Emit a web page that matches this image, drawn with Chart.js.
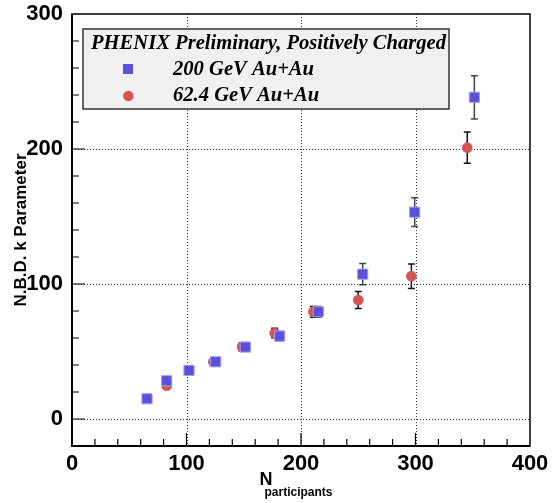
<!DOCTYPE html>
<html>
<head>
<meta charset="utf-8">
<script src="https://cdn.jsdelivr.net/npm/chart.js@4.4.1/dist/chart.umd.min.js"></script>
<style>
  html, body { margin: 0; padding: 0; background: #fff; }
</style>
</head>
<body>
<canvas id="chart" width="557" height="503"></canvas>
<script>
// 200 GeV Au+Au
const npartBlue = [65.5, 82.7, 102.2, 125.5, 151.4, 181.4, 215.1, 253.9, 299.3, 351.4];
const kBlue     = [15.0, 28.3, 36.0, 42.4, 53.3, 61.4, 79.4, 107.3, 153.2, 238.3];
const errBlue   = [1.5, 2, 2.5, 2.5, 3, 3.5, 4, 7.8, 10.6, 16];

// 62.4 GeV Au+Au
const npartRed = [82.7, 102.2, 123.4, 148.5, 177.0, 210.8, 250.0, 296.4, 345.2];
const kRed     = [24.6, 36.0, 42.2, 53.3, 63.7, 79.4, 88.1, 105.8, 201.0];
const errRed   = [1.5, 2, 2.5, 3, 3.5, 4, 6.3, 9.1, 11.6];

const seriesNames = ['200 GeV Au+Au', '62.4 GeV Au+Au'];
const legendTitle = 'PHENIX Preliminary, Positively Charged';
const xTickLabels = [0, 100, 200, 300, 400];
const yTickLabels = [0, 100, 200, 300];

const BLUE = '#5a50dc';
const RED = '#d65552';
const SANS = '"Liberation Sans", Arial, sans-serif';

function toPoints(xs, ys) {
  return xs.map((x, i) => ({ x, y: ys[i] }));
}

const errorBars = {
  id: 'errorBars',
  beforeDatasetsDraw(chart) {
    const { ctx, scales: { x, y } } = chart;
    const sets = [[npartBlue, kBlue, errBlue, '#444'], [npartRed, kRed, errRed, '#111']];
    ctx.save();
    ctx.lineWidth = 1.5;
    sets.forEach(([xs, ys, es, col]) => {
      ctx.strokeStyle = col;
      xs.forEach((v, i) => {
        const px = x.getPixelForValue(v);
        const top = y.getPixelForValue(ys[i] + es[i]);
        const bot = y.getPixelForValue(ys[i] - es[i]);
        ctx.beginPath();
        ctx.moveTo(px, top); ctx.lineTo(px, bot);
        ctx.moveTo(px - 3.5, top); ctx.lineTo(px + 3.5, top);
        ctx.moveTo(px - 3.5, bot); ctx.lineTo(px + 3.5, bot);
        ctx.stroke();
      });
    });
    ctx.restore();
  }
};

const frame = {
  id: 'frame',
  beforeDatasetsDraw(chart) {
    const { ctx, chartArea: a, scales: { x, y } } = chart;
    ctx.save();
    ctx.strokeStyle = '#333';
    ctx.lineWidth = 1;
    ctx.setLineDash([1, 2]);
    xTickLabels.forEach(v => {
      if (v <= x.min || v >= x.max) return;
      const px = Math.round(x.getPixelForValue(v)) + 0.5;
      ctx.beginPath(); ctx.moveTo(px, a.top); ctx.lineTo(px, a.bottom); ctx.stroke();
    });
    yTickLabels.forEach(v => {
      if (v <= y.min || v >= y.max) return;
      const py = Math.round(y.getPixelForValue(v)) + 0.5;
      ctx.beginPath(); ctx.moveTo(a.left, py); ctx.lineTo(a.right, py); ctx.stroke();
    });
    ctx.restore();
  },
  afterDraw(chart) {
    const { ctx, chartArea: a, scales: { x, y } } = chart;
    ctx.save();
    ctx.strokeStyle = '#000';
    ctx.lineWidth = 1.5;
    ctx.strokeRect(a.left, a.top, a.right - a.left, a.bottom - a.top);
    ctx.lineWidth = 2;
    ctx.beginPath();
    ctx.moveTo(a.left, a.top); ctx.lineTo(a.left, a.bottom); ctx.lineTo(a.right, a.bottom);
    ctx.stroke();
    // inward ticks
    ctx.lineWidth = 1.2;
    ctx.beginPath();
    x.ticks.forEach(t => {
      if (t.value <= x.min || t.value >= x.max) return;
      const px = x.getPixelForValue(t.value);
      const len = t.value % 100 === 0 ? 13 : 7;
      ctx.moveTo(px, a.bottom); ctx.lineTo(px, a.bottom - len);
    });
    y.ticks.forEach(t => {
      if (t.value <= y.min || t.value >= y.max) return;
      const py = y.getPixelForValue(t.value);
      const len = t.value % 100 === 0 ? 13 : 7;
      ctx.moveTo(a.left, py); ctx.lineTo(a.left + len, py);
    });
    ctx.stroke();

    // x axis title with subscript
    ctx.fillStyle = '#000';
    ctx.textBaseline = 'alphabetic';
    ctx.textAlign = 'left';
    ctx.font = 'bold 18px ' + SANS;
    ctx.fillText('N', 259.5, 485);
    ctx.font = 'bold 12px ' + SANS;
    ctx.fillText('participants', 264.5, 495.5);

    // legend box
    const lx = 83, ly = 29, lw = 366, lh = 80;
    ctx.fillStyle = '#f0f0f0';
    ctx.fillRect(lx, ly, lw, lh);
    ctx.strokeStyle = '#333';
    ctx.lineWidth = 1.5;
    ctx.strokeRect(lx, ly, lw, lh);
    ctx.fillStyle = '#000';
    ctx.font = 'italic bold 20.6px "Liberation Serif", "Times New Roman", serif';
    ctx.fillText(legendTitle, 91, 48.5);
    ctx.fillText(seriesNames[0], 173, 74.5);
    ctx.fillText(seriesNames[1], 173, 101);
    ctx.fillStyle = BLUE;
    ctx.fillRect(123, 64, 10, 10);
    ctx.fillStyle = RED;
    ctx.beginPath(); ctx.arc(128.3, 96, 5.2, 0, Math.PI * 2); ctx.fill();
    ctx.restore();
  }
};

new Chart(document.getElementById('chart'), {
  type: 'scatter',
  data: {
    datasets: [
      {
        label: seriesNames[0],
        data: toPoints(npartBlue, kBlue),
        pointStyle: 'rect',
        pointRadius: 7.2,
        backgroundColor: BLUE,
        borderColor: '#a39ff0',
        borderWidth: 1
      },
      {
        label: seriesNames[1],
        data: toPoints(npartRed, kRed),
        pointStyle: 'circle',
        pointRadius: 5.3,
        backgroundColor: RED,
        borderColor: RED,
        borderWidth: 0
      }
    ]
  },
  options: {
    responsive: false,
    animation: false,
    layout: { padding: { top: 14, right: 27, left: 0, bottom: 0 } },
    plugins: { legend: { display: false }, tooltip: { enabled: false } },
    scales: {
      x: {
        type: 'linear',
        min: 0, max: 400,
        afterFit: s => { s.height = 57; s.paddingLeft = 0; s.paddingRight = 0; },
        grid: { display: false, drawTicks: false, tickLength: 0 },
        border: { display: false },
        ticks: {
          stepSize: 20,
          autoSkip: false,
          maxRotation: 0,
          padding: 5,
          color: '#000',
          font: { family: SANS, size: 22, weight: 'bold' },
          callback: v => (xTickLabels.includes(v) ? String(v) : '')
        }
      },
      y: {
        type: 'linear',
        min: -20, max: 300,
        afterFit: s => { s.width = 72; s.paddingTop = 0; s.paddingBottom = 0; },
        grid: { display: false, drawTicks: false, tickLength: 0 },
        border: { display: false },
        title: {
          display: true,
          text: 'N.B.D. k Parameter',
          color: '#000',
          font: { family: SANS, size: 17, weight: 'bold' },
          padding: { top: 11, bottom: 0 }
        },
        ticks: {
          stepSize: 20,
          autoSkip: false,
          padding: 9,
          color: '#000',
          font: { family: SANS, size: 22, weight: 'bold' },
          callback: v => (yTickLabels.includes(v) ? String(v) : '')
        }
      }
    }
  },
  plugins: [errorBars, frame]
});
</script>
</body>
</html>
